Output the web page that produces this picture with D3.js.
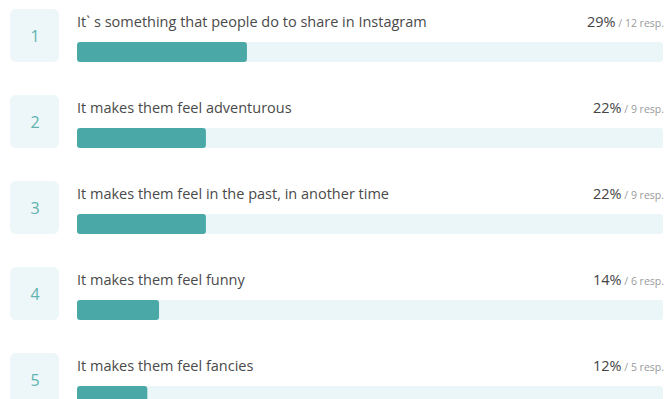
<!DOCTYPE html>
<html>
<head>
<meta charset="utf-8">
<script src="https://cdn.jsdelivr.net/npm/d3@7"></script>
<style>
  html, body { margin: 0; padding: 0; background: #fff; }
  svg { display: block; }
</style>
</head>
<body>
<svg id="chart" width="667" height="399"></svg>
<script>
// Survey answers, ranked
const ranks = [1, 2, 3, 4, 5];
const answers = [
  "It` s something that people do to share in Instagram",
  "It makes them feel adventurous",
  "It makes them feel in the past, in another time",
  "It makes them feel funny",
  "It makes them feel fancies"
];
const percents = [29, 22, 22, 14, 12];
const responses = [12, 9, 9, 6, 5];

const rows = ranks.map((r, i) => ({
  rank: r, label: answers[i], pct: percents[i], resp: responses[i]
}));

const svg = d3.select("#chart");
const font = "'Open Sans', sans-serif";

const y = d3.scaleBand().domain(ranks).range([9, 9 + 86 * 5]).paddingInner(0);
const x = d3.scaleLinear().domain([0, 100]).range([77, 663]);

const boxH = 53;
const barH = 20;

const g = svg.selectAll("g.row").data(rows).join("g")
  .attr("class", "row")
  .attr("transform", d => `translate(0,${y(d.rank)})`);

// rank badge
g.append("rect")
  .attr("x", 10).attr("y", 0)
  .attr("width", 49).attr("height", boxH)
  .attr("rx", 6)
  .attr("fill", "#edf6f8");

g.append("text")
  .attr("x", 35).attr("y", boxH / 2 + 6)
  .attr("text-anchor", "middle")
  .attr("font-family", font)
  .attr("font-size", 16)
  .attr("fill", "#5fb3b0")
  .text(d => d.rank);

// answer text
g.append("text")
  .attr("x", x(0)).attr("y", 18)
  .attr("font-family", font)
  .attr("font-size", 14.5)
  .attr("fill", "#4a4a4a")
  .text(d => d.label);

// value text
const vt = g.append("text")
  .attr("x", x(100) + 1).attr("y", 18)
  .attr("text-anchor", "end")
  .attr("font-family", font);
vt.append("tspan")
  .attr("font-size", 14.5)
  .attr("fill", "#444")
  .text(d => d.pct + "%");
vt.append("tspan")
  .attr("font-size", 10.5)
  .attr("fill", "#9a9a9a")
  .text(d => " / " + d.resp + " resp.");

// track and bar
g.append("rect")
  .attr("x", x(0)).attr("y", boxH - barH)
  .attr("width", x(100) - x(0)).attr("height", barH)
  .attr("rx", 3)
  .attr("fill", "#ebf6f8");

g.append("rect")
  .attr("x", x(0)).attr("y", boxH - barH)
  .attr("width", d => x(d.pct) - x(0)).attr("height", barH)
  .attr("rx", 3)
  .attr("fill", "#4aa9a6");
</script>
</body>
</html>
